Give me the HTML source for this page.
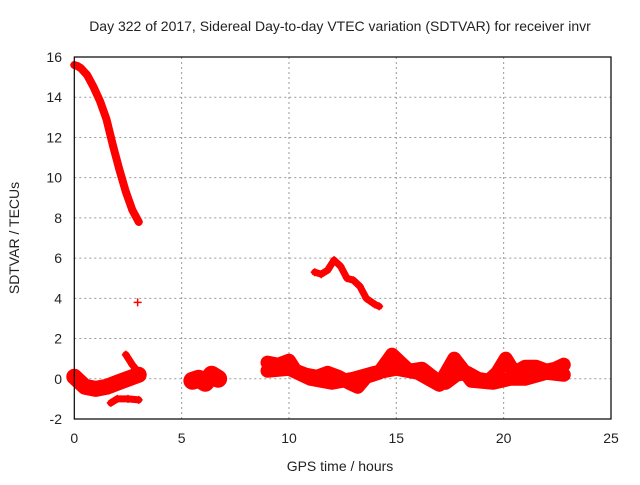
<!DOCTYPE html>
<html><head><meta charset="utf-8"><style>
body{margin:0;background:#fff}
svg text{font-family:"Liberation Sans",sans-serif;font-size:14px;fill:#222}
</style></head><body>
<svg id="chart" width="640" height="480" viewBox="0 0 640 480" xmlns="http://www.w3.org/2000/svg">
<rect width="640" height="480" fill="#fff"/>
<text x="340" y="31" text-anchor="middle">Day 322 of 2017, Sidereal Day-to-day VTEC variation (SDTVAR) for receiver invr</text>
<g id="grid"></g>
<g id="ticks"></g>
<g id="marks"></g>
<rect x="74.3" y="57" width="536.7" height="362" fill="none" stroke="#000" stroke-width="1.2"/>
<text x="340" y="471" text-anchor="middle">GPS time / hours</text>
<text transform="translate(19,238) rotate(-90)" text-anchor="middle">SDTVAR / TECUs</text>
</svg>
<script>
const xTicks=[0,5,10,15,20,25];
const yTicks=[-2,0,2,4,6,8,10,12,14,16];
const decayT=[0,0.15,0.3,0.6,0.9,1.2,1.5,1.8,2.1,2.4,2.7,3.0];
const decayV=[15.6,15.55,15.45,15.1,14.5,13.8,12.9,11.6,10.4,9.3,8.4,7.8];
const outlierT=[2.95];const outlierV=[3.8];
const earlyT=[0,0.2,0.5,1.0,1.5,2.0,2.5,3.0];
const earlyV=[0.1,-0.1,-0.4,-0.5,-0.4,-0.2,0.0,0.2];
const upT=[2.4,2.7,3.0];const upV=[1.2,0.7,0.3];
const lowT=[1.7,2.0,2.5,3.0];const lowV=[-1.2,-1.0,-1.0,-1.05];
const c2T=[5.5,5.8,6.1,6.4,6.7];const c2V=[-0.1,0.0,-0.2,0.2,0.0];
const midT=[11.2,11.5,11.8,12.1,12.4,12.7,13.0,13.3,13.6,14.0,14.2];
const midV=[5.3,5.2,5.4,5.9,5.6,5.0,4.9,4.6,4.0,3.7,3.6];
const bandT=[9.0,9.5,10.0,10.3,10.8,11.3,11.8,12.3,12.8,13.2,13.6,14.2,14.8,15.2,15.6,16.2,16.8,17.3,17.8,18.3,18.8,19.3,19.7,20.1,20.5,21.0,21.5,22.0,22.4,22.8];
const bandV=[0.8,0.7,0.9,0.4,0.2,0.1,0.3,0.1,-0.2,-0.4,0.1,0.3,1.2,0.8,0.4,0.5,0.0,-0.2,0.2,0.3,0.0,-0.1,0.3,1.0,0.3,0.6,0.6,0.4,0.5,0.7];
const band2T=[9.0,10.0,11.0,12.0,13.0,14.0,15.0,16.0,17.0,17.7,18.5,19.5,20.3,21.0,22.0,22.8];
const band2V=[0.4,0.5,0.0,-0.2,0.0,0.3,0.5,0.3,-0.3,1.0,-0.1,-0.2,0.0,0.0,0.3,0.2];
const X=t=>74.3+t*536.7/25;
const Y=v=>419-(v+2)*362/18;
const NS="http://www.w3.org/2000/svg";
const grid=document.getElementById('grid'),ticks=document.getElementById('ticks'),marks=document.getElementById('marks');
function mk(tag,a,p){const e=document.createElementNS(NS,tag);for(const k in a)e.setAttribute(k,a[k]);p.appendChild(e);return e;}
xTicks.forEach(t=>{
 if(t>0&&t<25){const g=mk('line',{x1:X(t),x2:X(t),y1:57,y2:419,stroke:'#999','stroke-dasharray':'2,3'},grid);
 
 }
 const tx=mk('text',{x:X(t),y:443,'text-anchor':'middle'},ticks);tx.textContent=t;
 
 
});
yTicks.forEach(v=>{
 if(v>-2&&v<16){const g=mk('line',{x1:74.3,x2:611,y1:Y(v),y2:Y(v),stroke:'#999','stroke-dasharray':'2,3'},grid);
 
 }
 const tx=mk('text',{x:62,y:Y(v)+5,'text-anchor':'end'},ticks);tx.textContent=v;
 
 
});
function series(T,V,w,name){
 const pts=T.map((t,i)=>X(t)+','+Y(V[i])).join(' ');
 if(T.length>1){const p=mk('polyline',{points:pts,fill:'none',stroke:'#f00','stroke-width':w,'stroke-linejoin':'round','stroke-linecap':'round'},marks);
 
 }
 T.forEach((t,i)=>{const x=X(t),y=Y(V[i]);
  const m=mk('path',{d:`M${x-4},${y}H${x+4}M${x},${y-4}V${y+4}`,stroke:'#f00','stroke-width':1.5},marks);
  
  });
}
series(decayT,decayV,8,'decay-series');
series(outlierT,outlierV,2,'outlier-point');
series(earlyT,earlyV,16,'early-cluster');
series(upT,upV,7,'early-upper-branch');
series(lowT,lowV,7,'early-lower-branch');
series(c2T,c2V,18,'cluster-6h');
series(midT,midV,7,'mid-series');
series(bandT,bandV,14,'band-series');
series(band2T,band2V,14,'band-series-2');
</script>
</body></html>
